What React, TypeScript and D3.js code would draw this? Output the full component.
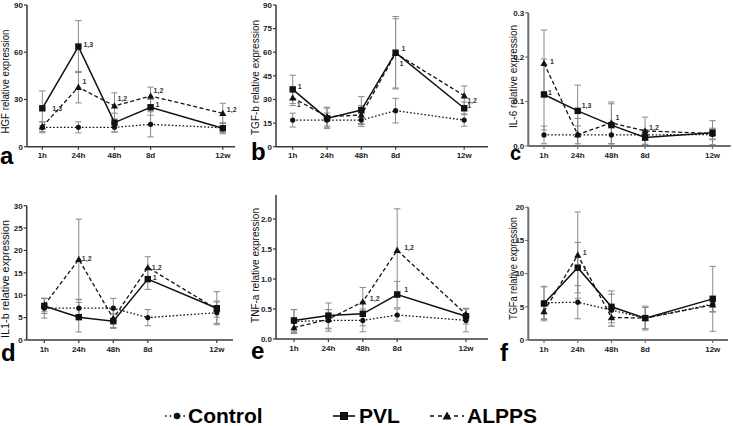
import React from 'react';
import * as d3 from 'd3';

const categories = ['1h', '24h', '48h', '8d', '12w'];
const catPos = [0, 1, 2, 3, 5];

// a: HGF
const hgfControl = [12.3, 12.3, 12.3, 14.2, 12.0];
const hgfControlErr = [3.5, 3.5, 3.0, 8.0, 3.0];
const hgfPVL = [24.4, 63.6, 15.3, 25.0, 11.7];
const hgfPVLErr = [11.0, 16.5, 6.0, 5.0, 3.5];
const hgfALPPS = [12.7, 37.8, 25.9, 32.2, 21.2];
const hgfALPPSErr = [3.0, 10.0, 8.3, 5.6, 6.4];
const hgfTicks = [0, 30, 60, 90];
const hgfNotes = [
  { s: 'pvl', i: 0, t: '1,3' }, { s: 'pvl', i: 1, t: '1,3' }, { s: 'alpps', i: 1, t: '1' },
  { s: 'alpps', i: 2, t: '1,2' }, { s: 'alpps', i: 3, t: '1,2' }, { s: 'pvl', i: 3, t: '1' },
  { s: 'alpps', i: 4, t: '1,2' },
];

// b: TGF-b
const tgfbControl = [16.9, 16.9, 16.9, 22.9, 16.9];
const tgfbControlErr = [4.4, 4.5, 4.0, 7.8, 3.9];
const tgfbPVL = [36.4, 18.0, 23.3, 59.7, 24.4];
const tgfbPVLErr = [9.0, 6.5, 8.5, 23.0, 4.0];
const tgfbALPPS = [31.1, 19.1, 20.1, 59.3, 32.4];
const tgfbALPPSErr = [5.0, 6.0, 6.0, 22.0, 6.2];
const tgfbTicks = [0, 15, 30, 45, 60, 75, 90];
const tgfbNotes = [
  { s: 'pvl', i: 0, t: '1' }, { s: 'alpps', i: 0, t: '1' }, { s: 'pvl', i: 3, t: '1' },
  { s: 'alpps', i: 3, t: '1' }, { s: 'alpps', i: 4, t: '1,2' }, { s: 'pvl', i: 4, t: '1' },
];

// c: IL-6
const il6Control = [0.025, 0.025, 0.025, 0.025, 0.026];
const il6ControlErr = [0.02, 0.02, 0.02, 0.012, 0.012];
const il6PVL = [0.116, 0.079, 0.047, 0.019, 0.030];
const il6PVLErr = [0.08, 0.058, 0.048, 0.015, 0.027];
const il6ALPPS = [0.186, 0.026, 0.052, 0.034, 0.028];
const il6ALPPSErr = [0.075, 0.036, 0.047, 0.031, 0.012];
const il6Ticks = [0, 0.1, 0.2, 0.3];
const il6Notes = [
  { s: 'alpps', i: 0, t: '1' }, { s: 'pvl', i: 0, t: '1' }, { s: 'pvl', i: 1, t: '1,3' },
  { s: 'alpps', i: 2, t: '1' }, { s: 'alpps', i: 3, t: '1,2' },
];

// d: IL1-b
const il1bControl = [7.1, 7.1, 7.1, 5.0, 6.1];
const il1bControlErr = [2.2, 2.0, 2.2, 1.8, 2.4];
const il1bPVL = [7.6, 5.1, 4.2, 13.6, 7.1];
const il1bPVLErr = [1.7, 3.3, 1.6, 2.3, 3.7];
const il1bALPPS = [7.8, 18.0, 4.8, 16.2, 6.9];
const il1bALPPSErr = [1.5, 9.0, 2.0, 2.4, 1.8];
const il1bTicks = [0, 5, 10, 15, 20, 25, 30];
const il1bNotes = [
  { s: 'alpps', i: 1, t: '1,2' }, { s: 'alpps', i: 3, t: '1,2' }, { s: 'pvl', i: 3, t: '1' },
];

// e: TNF-a
const tnfControl = [0.29, 0.31, 0.31, 0.40, 0.31];
const tnfControlErr = [0.2, 0.18, 0.19, 0.1, 0.19];
const tnfPVL = [0.31, 0.39, 0.42, 0.74, 0.38];
const tnfPVLErr = [0.18, 0.21, 0.2, 0.22, 0.13];
const tnfALPPS = [0.19, 0.33, 0.62, 1.48, 0.41];
const tnfALPPSErr = [0.08, 0.16, 0.24, 0.69, 0.1];
const tnfTicks = [0, 0.5, 1.0, 1.5, 2.0];
const tnfNotes = [
  { s: 'alpps', i: 2, t: '1,2' }, { s: 'alpps', i: 3, t: '1,2' }, { s: 'pvl', i: 3, t: '1' },
];

// f: TGFa
const tgfaControl = [5.6, 5.7, 4.5, 3.3, 5.4];
const tgfaControlErr = [2.4, 2.5, 2.4, 1.6, 1.2];
const tgfaPVL = [5.5, 10.9, 5.0, 3.3, 6.2];
const tgfaPVLErr = [2.6, 3.8, 2.4, 1.6, 4.9];
const tgfaALPPS = [4.3, 12.8, 3.4, 3.3, 5.3];
const tgfaALPPSErr = [1.2, 6.5, 1.3, 1.8, 1.0];
const tgfaTicks = [0, 5, 10, 15, 20];
const tgfaNotes = [{ s: 'alpps', i: 1, t: '1' }, { s: 'pvl', i: 1, t: '1' }];

const legendLabels = ['Control', 'PVL', 'ALPPS'];

const panels = [
  { letter: 'a', label: 'HGF relative expression', yMax: 90, ticks: hgfTicks, dec: 0,
    control: hgfControl, controlErr: hgfControlErr, pvl: hgfPVL, pvlErr: hgfPVLErr, alpps: hgfALPPS, alppsErr: hgfALPPSErr, notes: hgfNotes },
  { letter: 'b', label: 'TGF-b relative expression', yMax: 90, ticks: tgfbTicks, dec: 0,
    control: tgfbControl, controlErr: tgfbControlErr, pvl: tgfbPVL, pvlErr: tgfbPVLErr, alpps: tgfbALPPS, alppsErr: tgfbALPPSErr, notes: tgfbNotes },
  { letter: 'c', label: 'IL-6 relative expression', yMax: 0.3, ticks: il6Ticks, dec: 1,
    control: il6Control, controlErr: il6ControlErr, pvl: il6PVL, pvlErr: il6PVLErr, alpps: il6ALPPS, alppsErr: il6ALPPSErr, notes: il6Notes },
  { letter: 'd', label: 'IL1-b relative expression', yMax: 30, ticks: il1bTicks, dec: 0,
    control: il1bControl, controlErr: il1bControlErr, pvl: il1bPVL, pvlErr: il1bPVLErr, alpps: il1bALPPS, alppsErr: il1bALPPSErr, notes: il1bNotes },
  { letter: 'e', label: 'TNF-a relative expression', yMax: 2.4, ticks: tnfTicks, dec: 1,
    control: tnfControl, controlErr: tnfControlErr, pvl: tnfPVL, pvlErr: tnfPVLErr, alpps: tnfALPPS, alppsErr: tnfALPPSErr, notes: tnfNotes },
  { letter: 'f', label: 'TGFa relative expression', yMax: 20, ticks: tgfaTicks, dec: 0,
    control: tgfaControl, controlErr: tgfaControlErr, pvl: tgfaPVL, pvlErr: tgfaPVLErr, alpps: tgfaALPPS, alppsErr: tgfaALPPSErr, notes: tgfaNotes },
];

// layout (pixels)
const layouts = [
  { axisX: 27, xEnd: 235, yTop: 5, yBottom: 146.7, x0: 42.3, step: 36.1, labelX: 9, labelY: 81.5, labelLen: 104, letterX: 0, letterY: 164, letterSize: 24,
    axisColor: '#3a3a3a', axisW: 1.5, noteOff: [[10, 0], [5, -2], [4, -6], [3, -7], [3, -5], [5, -3], [4, -4]] },
  { axisX: 276, xEnd: 488, yTop: 5, yBottom: 146.7, x0: 292.7, step: 34.3, labelX: 259, labelY: 77.5, labelLen: 115, letterX: 251, letterY: 160, letterSize: 24,
    axisColor: '#3a3a3a', axisW: 1.5, noteOff: [[5, -3], [4, 7], [6, -4], [4, 10], [3, 4.5], [3, -2.5]] },
  { axisX: 528.3, xEnd: 730.7, yTop: 12.7, yBottom: 146, x0: 544, step: 33.7, labelX: 517, labelY: 76.5, labelLen: 103, letterX: 510, letterY: 160, letterSize: 20,
    axisColor: '#6e6e6e', axisW: 2, noteOff: [[6, -2], [4, -2], [4, -5], [4, -5], [4, -3]] },
  { axisX: 26.7, xEnd: 233, yTop: 205.7, yBottom: 340, x0: 44.3, step: 34.5, labelX: 9, labelY: 279, labelLen: 118, letterX: 1, letterY: 361, letterSize: 24,
    axisColor: '#3a3a3a', axisW: 1.5, noteOff: [[3, -1], [4, 0], [5, -2]] },
  { axisX: 276, xEnd: 488, yTop: 195, yBottom: 339, x0: 294, step: 34.4, labelX: 259, labelY: 265.5, labelLen: 115, letterX: 251, letterY: 359, letterSize: 24,
    axisColor: '#3a3a3a', axisW: 1.5, noteOff: [[7, -3], [7, -3], [7, -5]] },
  { axisX: 528.3, xEnd: 728, yTop: 207.3, yBottom: 340, x0: 544, step: 33.75, labelX: 517, labelY: 268.5, labelLen: 103, letterX: 500, letterY: 361, letterSize: 24,
    axisColor: '#6e6e6e', axisW: 2, noteOff: [[5, -3], [5, 1]] },
];

const FONT = "'Liberation Sans', Arial, Helvetica, sans-serif";
const INK = '#111';
const ERR = '#8a8a8a';

const dashFor: Record<string, string | undefined> = { control: '1.6,2', pvl: undefined, alpps: '4,2.5' };

function Marker({ kind, x, y, scale = 1 }: { kind: string; x: number; y: number; scale?: number }) {
  if (kind === 'pvl') {
    const s = 6.4 * scale;
    return <rect x={x - s / 2} y={y - s / 2} width={s} height={s} fill={INK} />;
  }
  if (kind === 'alpps') {
    const s = 3.6 * scale;
    return <path d={`M${x},${y - s}L${x + s},${y + s * 0.75}L${x - s},${y + s * 0.75}Z`} fill={INK} />;
  }
  return <circle cx={x} cy={y} r={2.6 * scale} fill={INK} />;
}

function Panel({ p, L }: { p: any; L: any }) {
  const x = d3.scaleLinear().domain([0, 5]).range([L.x0, L.x0 + 5 * L.step]);
  const y = d3.scaleLinear().domain([0, p.yMax]).range([L.yBottom, L.yTop]);
  const fmt = d3.format(p.dec ? '.1f' : 'd');
  const series = [
    { key: 'control', vals: p.control, errs: p.controlErr },
    { key: 'alpps', vals: p.alpps, errs: p.alppsErr },
    { key: 'pvl', vals: p.pvl, errs: p.pvlErr },
  ];
  const line = d3.line<number>().x((_, i) => x(catPos[i])).y((v) => y(v));
  const capW = 3.2;
  return (
    <g>
      {series.map((s) =>
        s.vals.map((v: number, i: number) => {
          const cx = x(catPos[i]);
          const hi = y(v + s.errs[i]);
          const lo = y(Math.max(0, v - s.errs[i]));
          return (
            <g key={s.key + i} stroke={ERR} strokeWidth={1}>
              <line x1={cx} x2={cx} y1={hi} y2={lo} />
              <line x1={cx - capW} x2={cx + capW} y1={hi} y2={hi} />
              <line x1={cx - capW} x2={cx + capW} y1={lo} y2={lo} />
            </g>
          );
        })
      )}
      {series.map((s) => (
        <path key={s.key} d={line(s.vals) || ''} fill="none" stroke={INK}
          strokeWidth={s.key === 'pvl' ? 1.5 : 1.3} strokeDasharray={dashFor[s.key]} />
      ))}
      {series.map((s) => s.vals.map((v: number, i: number) => (
        <Marker key={s.key + 'm' + i} kind={s.key} x={x(catPos[i])} y={y(v)} />
      )))}
      <line x1={L.axisX} x2={L.axisX} y1={L.yTop} y2={L.yBottom} stroke={L.axisColor} strokeWidth={L.axisW} />
      <line x1={L.axisX} x2={L.xEnd} y1={L.yBottom} y2={L.yBottom} stroke={L.axisColor} strokeWidth={L.axisW} />
      {p.ticks.map((t: number) => (
        <g key={'yt' + t}>
          <line x1={L.axisX - 3} x2={L.axisX} y1={y(t)} y2={y(t)} stroke={L.axisColor} strokeWidth={1.2} />
          <text x={L.axisX - 4} y={y(t)} dy="0.35em" textAnchor="end" fontSize={8} fontWeight="bold" fill="#222" fontFamily={FONT}>{fmt(t)}</text>
        </g>
      ))}
      {categories.map((c, i) => (
        <g key={'xt' + c}>
          <line x1={x(catPos[i])} x2={x(catPos[i])} y1={L.yBottom} y2={L.yBottom + 3} stroke={L.axisColor} strokeWidth={1.2} />
          <text x={x(catPos[i])} y={L.yBottom + 11.5} textAnchor="middle" fontSize={8} fontWeight="bold" fill="#222" fontFamily={FONT}>{c}</text>
        </g>
      ))}
      <text transform={`translate(${L.labelX},${L.labelY}) rotate(-90)`} textAnchor="middle" fontSize={11}
        fill="#111" fontFamily={FONT} textLength={L.labelLen} lengthAdjust="spacingAndGlyphs">{p.label}</text>
      {p.notes.map((n: any, k: number) => {
        const vals = n.s === 'pvl' ? p.pvl : n.s === 'alpps' ? p.alpps : p.control;
        const [dx, dy] = L.noteOff[k];
        return (
          <text key={'n' + k} x={x(catPos[n.i]) + dx} y={y(vals[n.i]) + dy} dy="0.35em" fontSize={7} fontWeight="bold"
            fill="#333" fontFamily={FONT}>{n.t}</text>
        );
      })}
      <text x={L.letterX} y={L.letterY} fontSize={L.letterSize} fontWeight="bold" fill="#000" fontFamily={FONT}>{p.letter}</text>
    </g>
  );
}

export default function App() {
  const legendKeys = ['control', 'pvl', 'alpps'];
  const legendLine = [[165, 188], [333, 355], [430, 464]];
  const legendMark = [177, 344, 447];
  const legendText = [188, 359, 467];
  const ly = 416;
  return (
    <svg width={733} height={426} style={{ position: 'absolute', left: 0, top: 0, background: '#fff' }}>
      <rect width={733} height={426} fill="#fff" />
      {panels.map((p, i) => <Panel key={p.letter} p={p} L={layouts[i]} />)}
      {legendKeys.map((k, i) => (
        <g key={k}>
          <line x1={legendLine[i][0]} x2={legendLine[i][1]} y1={ly} y2={ly} stroke={INK} strokeWidth={1.6}
            strokeDasharray={k === 'control' ? '1.6,3' : k === 'alpps' ? '4,4' : undefined} />
          <Marker kind={k} x={legendMark[i]} y={ly} scale={1.25} />
          <text x={legendText[i]} y={423} fontSize={21} fontWeight="bold" fill="#000" fontFamily={FONT}>{legendLabels[i]}</text>
        </g>
      ))}
    </svg>
  );
}
